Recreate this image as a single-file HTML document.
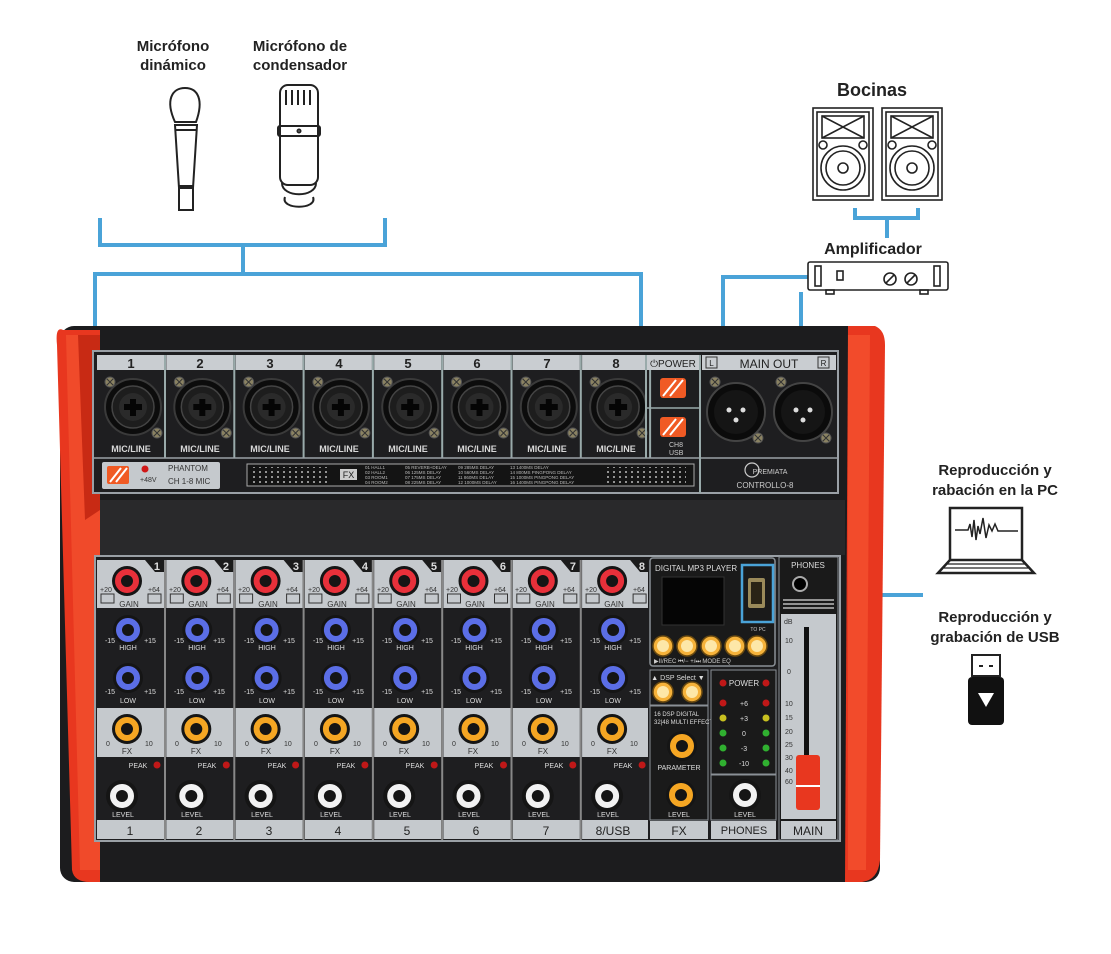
<!DOCTYPE html>
<html><head><meta charset="utf-8"><style>
html,body{margin:0;padding:0;background:#fff;}
svg{display:block;}
.t{font-family:"Liberation Sans",sans-serif;}
</style></head><body>
<svg width="1111" height="954" viewBox="0 0 1111 954" xmlns="http://www.w3.org/2000/svg" class="t">
<defs>
<pattern id="dots" width="6" height="5" patternUnits="userSpaceOnUse"><circle cx="2" cy="2" r="1" fill="#bbb"/></pattern>
<g id="jack">
 <circle cx="0" cy="0" r="28" fill="#0c0c0c" stroke="#3a3a3a" stroke-width="2"/>
 <circle cx="0" cy="0" r="21" fill="#1d1d1d" stroke="#444" stroke-width="1.5"/>
 <circle cx="0" cy="0" r="14" fill="#2a2a2a"/>
 <path d="M-9,-3 L-3,-3 L-3,-8 L3,-8 L3,-3 L9,-3 L9,3 L3,3 L3,9 L-3,9 L-3,3 L-9,3Z" fill="#050505"/>
</g>
<g id="screw"><circle r="5" fill="#8a8262" stroke="#555" stroke-width="1"/><path d="M-3,-3 L3,3 M-3,3 L3,-3" stroke="#333" stroke-width="1"/></g>
<g id="krd"><circle r="15" fill="#151515"/><circle r="9" fill="none" stroke="#e8303a" stroke-width="6"/><circle r="5" fill="#151515"/></g>
<g id="kbl"><circle r="15" fill="#151515"/><circle r="9" fill="none" stroke="#5b6ee6" stroke-width="6"/><circle r="5" fill="#151515"/></g>
<g id="kor"><circle r="15" fill="#151515"/><circle r="9" fill="none" stroke="#f5a623" stroke-width="6"/><circle r="5" fill="#151515"/></g>
<g id="kwh"><circle r="16" fill="#151515"/><circle r="9" fill="none" stroke="#f2f2f2" stroke-width="6"/><circle r="5" fill="#151515"/></g>
<g id="btn"><circle r="10" fill="#f6b23a" stroke="#6a4a10" stroke-width="1.5"/><circle r="6" fill="#fde7a8"/></g>
<g id="chtop">
 <rect x="97" y="355" width="67" height="15" fill="#c9cdd1"/>
 <line x1="165" y1="355" x2="165" y2="458" stroke="#9aa" stroke-width="2"/>
 <use href="#jack" x="133" y="407"/>
 <use href="#screw" x="110" y="382"/>
 <use href="#screw" x="157" y="433"/>
</g>
<g id="chbot">
 <rect x="97" y="560" width="67" height="48" fill="#c5c9cd"/>
 <path d="M145,560 L164,560 L164,572 L155,572Z" fill="#1b1b1b"/>
 <rect x="97" y="708" width="67" height="49" fill="#c5c9cd"/>
 <rect x="97" y="820" width="67" height="19" fill="#c5c9cd"/>
 <line x1="165" y1="560" x2="165" y2="840" stroke="#888" stroke-width="2"/>
 <rect x="101" y="594" width="13" height="9" fill="none" stroke="#333" stroke-width="1"/>
 <rect x="148" y="594" width="13" height="9" fill="none" stroke="#333" stroke-width="1"/>
 <use href="#krd" x="127" y="581"/>
 <use href="#kbl" x="128" y="630"/>
 <use href="#kbl" x="128" y="678"/>
 <use href="#kor" x="127" y="729"/>
 <use href="#kwh" x="122" y="796"/>
 <circle cx="157" cy="765" r="3.5" fill="#c01818"/>
</g>
</defs>

<!-- Blue connectors -->
<g stroke="#4aa3d8" stroke-width="4" fill="none">
 <path d="M100,218 V245 H385 V218"/>
 <path d="M243,245 V274"/>
 <path d="M95,340 V274 H641 V340"/>
 <path d="M855,208 V218 H918 V208"/>
 <path d="M887,218 V238"/>
 <path d="M808,277 H723 V372"/>
 <path d="M801,292 V372"/>
 <path d="M776,595 H923"/>
</g>

<!-- Labels top -->
<g font-weight="bold" font-size="15" fill="#222" text-anchor="middle">
 <text x="173" y="51">Micrófono</text>
 <text x="173" y="70">dinámico</text>
 <text x="300" y="51">Micrófono de</text>
 <text x="300" y="70">condensador</text>
 <text x="872" y="96" font-size="18">Bocinas</text>
 <text x="873" y="254" font-size="16">Amplificador</text>
 <text x="995" y="475">Reproducción y</text>
 <text x="995" y="495">rabación en la PC</text>
 <text x="995" y="622">Reproducción y</text>
 <text x="995" y="642">grabación de USB</text>
</g>

<!-- dynamic mic -->
<g fill="none" stroke="#222" stroke-width="2">
 <path d="M175,122 C165,100 172,88 185,88 C198,88 204,100 196,122 Z"/>
 <path d="M175,125 H197 L193,188 H179 Z"/>
 <rect x="179" y="186" width="14" height="24"/>
 <path d="M176,130 H196"/>
 <!-- condenser -->
 <rect x="280" y="85" width="38" height="100" rx="8"/>
 <path d="M286,90 V105 M292,90 V105 M298,90 V105 M304,90 V105 M310,90 V105"/>
 <rect x="278" y="126" width="42" height="10" rx="2"/>
 <circle cx="299" cy="131" r="1.5"/>
 <path d="M282,183 C282,198 316,198 316,183"/>
 <path d="M285,197 C280,210 318,210 313,197"/>
</g>

<!-- speakers -->
<g fill="none" stroke="#222" stroke-width="1.6">
 <rect x="813" y="108" width="60" height="92"/>
 <rect x="817" y="112" width="52" height="84"/>
 <rect x="822" y="116" width="42" height="22"/>
 <path d="M822,116 L843,127 L864,116 M822,138 L843,127 L864,138"/>
 <circle cx="843" cy="168" r="22"/><circle cx="843" cy="168" r="17"/><circle cx="843" cy="168" r="5"/>
 <circle cx="823" cy="145" r="4"/><circle cx="863" cy="145" r="4"/>
 <rect x="882" y="108" width="60" height="92"/>
 <rect x="886" y="112" width="52" height="84"/>
 <rect x="891" y="116" width="42" height="22"/>
 <path d="M891,116 L912,127 L933,116 M891,138 L912,127 L933,138"/>
 <circle cx="912" cy="168" r="22"/><circle cx="912" cy="168" r="17"/><circle cx="912" cy="168" r="5"/>
 <circle cx="892" cy="145" r="4"/><circle cx="932" cy="145" r="4"/>
 <!-- amp -->
 <rect x="808" y="262" width="140" height="28" rx="2"/>
 <rect x="815" y="266" width="6" height="20"/><rect x="934" y="266" width="6" height="20"/>
 <rect x="837" y="271" width="6" height="9"/>
 <circle cx="890" cy="279" r="6"/><circle cx="911" cy="279" r="6"/>
 <path d="M886,283 L894,275 M907,283 L915,275"/>
 <rect x="826" y="290" width="8" height="4"/><rect x="920" y="290" width="8" height="4"/>
 <!-- laptop -->
 <rect x="950" y="508" width="72" height="52" stroke-width="2.5"/>
 <path d="M950,560 L938,573 H1034 L1022,560" stroke-width="2.5"/>
 <path d="M946,564 H1026 M944,568 H1028" stroke-width="1.2"/>
 <path d="M955,530 H968 L970,524 L972,537 L974,520 L976,540 L978,526 L980,534 L983,518 L986,538 L989,525 L992,531 L995,524 L998,531 H1018" stroke-width="1.5"/>
 <rect x="972" y="655" width="28" height="21" stroke-width="2"/>
 <path d="M979,666 H983 M989,666 H993" stroke-width="2"/>
</g>
<rect x="968" y="677" width="36" height="48" rx="4" fill="#111"/>
<path d="M978,693 H994 L986,707Z" fill="#fff"/>

<!-- Mixer body -->
<rect x="60" y="326" width="820" height="556" rx="14" fill="#1c1c1e"/>
<rect x="95" y="500" width="750" height="55" fill="#29292b"/>
<path d="M63,330 Q55,326 57,345 L72,870 Q74,882 90,882 L100,882 L100,330Z" fill="#e8371f"/>
<path d="M66,335 L100,335 L100,870 L80,870Z" fill="#f04a2a"/>
<path d="M78,335 L100,335 L100,510 L85,520Z" fill="#c82a14"/>
<path d="M848,326 L875,326 Q885,330 885,345 L880,860 Q878,880 862,882 L845,882Z" fill="#e8371f"/>
<path d="M848,335 L870,335 L866,870 L848,870Z" fill="#f24b2b"/>

<!-- top panel -->
<rect x="93" y="351" width="745" height="142" fill="#1e1e20" stroke="#9aa0a6" stroke-width="2"/>
<use href="#chtop"/>
<use href="#chtop" x="69.3"/>
<use href="#chtop" x="138.6"/>
<use href="#chtop" x="207.9"/>
<use href="#chtop" x="277.2"/>
<use href="#chtop" x="346.5"/>
<use href="#chtop" x="415.8"/>
<use href="#chtop" x="485.1"/>
<line x1="93" y1="458" x2="838" y2="458" stroke="#9aa0a6" stroke-width="1.5"/>
<g font-size="13" font-weight="bold" fill="#222" text-anchor="middle">
 <text x="131" y="368">1</text><text x="200" y="368">2</text><text x="270" y="368">3</text><text x="339" y="368">4</text>
 <text x="408" y="368">5</text><text x="477" y="368">6</text><text x="547" y="368">7</text><text x="616" y="368">8</text>
</g>
<g font-size="9" font-weight="bold" fill="#d8d8d8" text-anchor="middle">
 <text x="131" y="452">MIC/LINE</text><text x="200" y="452">MIC/LINE</text><text x="270" y="452">MIC/LINE</text><text x="339" y="452">MIC/LINE</text>
 <text x="408" y="452">MIC/LINE</text><text x="477" y="452">MIC/LINE</text><text x="547" y="452">MIC/LINE</text><text x="616" y="452">MIC/LINE</text>
</g>
<!-- phantom -->
<rect x="102" y="462" width="118" height="27" rx="2" fill="#c5c9cd"/>
<rect x="107" y="466" width="22" height="18" rx="2" fill="#f05a24"/>
<path d="M110,482 L121,468 M116,482 L127,468" stroke="#fff" stroke-width="2"/>
<circle cx="145" cy="469" r="3.5" fill="#d01818"/>
<text x="140" y="482" font-size="7" fill="#333">+48V</text>
<text x="168" y="471" font-size="8" fill="#333">PHANTOM</text>
<text x="168" y="484" font-size="8" fill="#333">CH 1-8 MIC</text>
<!-- fx list -->
<rect x="247" y="464" width="447" height="22" fill="#141414" stroke="#aaa" stroke-width="1"/>
<rect x="251" y="467" width="80" height="16" fill="url(#dots)"/>
<rect x="606" y="467" width="80" height="16" fill="url(#dots)"/>
<rect x="340" y="469" width="17" height="11" fill="#ccc"/>
<text x="348.5" y="478" font-size="9" fill="#222" text-anchor="middle">FX</text>
<g font-size="4.5" fill="#bbb">
 <text x="365" y="469">01 HALL1</text><text x="365" y="474">02 HALL2</text><text x="365" y="479">03 ROOM1</text><text x="365" y="484">04 ROOM2</text>
 <text x="405" y="469">05 REVERB+DELAY</text><text x="405" y="474">06 125MS DELAY</text><text x="405" y="479">07 175MS DELAY</text><text x="405" y="484">08 225MS DELAY</text>
 <text x="458" y="469">09 285MS DELAY</text><text x="458" y="474">10 560MS DELAY</text><text x="458" y="479">11 860MS DELAY</text><text x="458" y="484">12 1000MS DELAY</text>
 <text x="510" y="469">13 1400MS DELAY</text><text x="510" y="474">14 800MS PINGPONG DELAY</text><text x="510" y="479">15 1000MS PINGPONG DELAY</text><text x="510" y="484">16 1400MS PINGPONG DELAY</text>
</g>
<!-- power/usb -->
<rect x="647" y="355" width="52" height="15" fill="#c9cdd1"/>
<text x="673" y="367" font-size="10" fill="#222" text-anchor="middle">⏻POWER</text>
<line x1="646" y1="355" x2="646" y2="458" stroke="#9aa" stroke-width="2"/>
<line x1="700" y1="355" x2="700" y2="493" stroke="#9aa" stroke-width="2"/>
<line x1="646" y1="408" x2="700" y2="408" stroke="#9aa" stroke-width="1.5"/>
<rect x="660" y="378" width="26" height="20" rx="3" fill="#f05a24"/>
<path d="M663,396 L676,380 M670,396 L683,380" stroke="#fff" stroke-width="2"/>
<rect x="660" y="417" width="26" height="20" rx="3" fill="#f05a24"/>
<path d="M663,435 L676,419 M670,435 L683,419" stroke="#fff" stroke-width="2"/>
<text x="669" y="447" font-size="7" fill="#ccc">CH8</text>
<text x="669" y="455" font-size="7" fill="#ccc">USB</text>
<!-- main out -->
<rect x="702" y="355" width="134" height="15" fill="#c9cdd1"/>
<text x="769" y="368" font-size="12" fill="#222" text-anchor="middle">MAIN OUT</text>
<rect x="706" y="357" width="11" height="11" fill="none" stroke="#333"/>
<text x="711.5" y="366" font-size="8" text-anchor="middle" fill="#222">L</text>
<rect x="818" y="357" width="11" height="11" fill="none" stroke="#333"/>
<text x="823.5" y="366" font-size="8" text-anchor="middle" fill="#222">R</text>
<g>
 <circle cx="736" cy="412" r="29" fill="#0b0b0b" stroke="#444" stroke-width="2"/>
 <circle cx="736" cy="412" r="22" fill="#151515"/>
 <circle cx="729" cy="410" r="2.5" fill="#ddd"/><circle cx="743" cy="410" r="2.5" fill="#ddd"/><circle cx="736" cy="420" r="2.5" fill="#ddd"/>
 <circle cx="803" cy="412" r="29" fill="#0b0b0b" stroke="#444" stroke-width="2"/>
 <circle cx="803" cy="412" r="22" fill="#151515"/>
 <circle cx="796" cy="410" r="2.5" fill="#ddd"/><circle cx="810" cy="410" r="2.5" fill="#ddd"/><circle cx="803" cy="420" r="2.5" fill="#ddd"/>
 <use href="#screw" x="715" y="382"/><use href="#screw" x="758" y="438"/>
 <use href="#screw" x="781" y="382"/><use href="#screw" x="826" y="438"/>
</g>
<circle cx="752" cy="470" r="7" fill="none" stroke="#ccc" stroke-width="1.2"/>
<text x="770" y="474" font-size="7" fill="#ccc" text-anchor="middle">PREMIATA</text>
<text x="765" y="488" font-size="8" fill="#ccc" text-anchor="middle">CONTROLLO-8</text>

<!-- bottom panel -->
<rect x="95" y="556" width="745" height="285" fill="#1e1e20" stroke="#9aa0a6" stroke-width="2"/>
<use href="#chbot"/>
<use href="#chbot" x="69.3"/>
<use href="#chbot" x="138.6"/>
<use href="#chbot" x="207.9"/>
<use href="#chbot" x="277.2"/>
<use href="#chbot" x="346.5"/>
<use href="#chbot" x="415.8"/>
<use href="#chbot" x="485.1"/>
<g font-size="11" font-weight="bold" fill="#ddd" text-anchor="end">
 <text x="160" y="570">1</text><text x="229" y="570">2</text><text x="299" y="570">3</text><text x="368" y="570">4</text>
 <text x="437" y="570">5</text><text x="506" y="570">6</text><text x="576" y="570">7</text><text x="645" y="570">8</text>
</g>
<g font-size="8" fill="#333" text-anchor="middle">
 <text x="129" y="607">GAIN</text><text x="198" y="607">GAIN</text><text x="268" y="607">GAIN</text><text x="337" y="607">GAIN</text>
 <text x="406" y="607">GAIN</text><text x="475" y="607">GAIN</text><text x="545" y="607">GAIN</text><text x="614" y="607">GAIN</text>
 <text x="127" y="754">FX</text><text x="196" y="754">FX</text><text x="266" y="754">FX</text><text x="335" y="754">FX</text>
 <text x="404" y="754">FX</text><text x="473" y="754">FX</text><text x="543" y="754">FX</text><text x="612" y="754">FX</text>
</g>
<g font-size="7" fill="#333">
 <text x="100" y="592">+20</text><text x="148" y="592">+64</text>
 <text x="169" y="592">+20</text><text x="217" y="592">+64</text>
 <text x="238" y="592">+20</text><text x="286" y="592">+64</text>
 <text x="308" y="592">+20</text><text x="356" y="592">+64</text>
 <text x="377" y="592">+20</text><text x="425" y="592">+64</text>
 <text x="446" y="592">+20</text><text x="494" y="592">+64</text>
 <text x="515" y="592">+20</text><text x="563" y="592">+64</text>
 <text x="585" y="592">+20</text><text x="633" y="592">+64</text>
 <text x="106" y="746">0</text><text x="145" y="746">10</text>
 <text x="175" y="746">0</text><text x="214" y="746">10</text>
 <text x="245" y="746">0</text><text x="284" y="746">10</text>
 <text x="314" y="746">0</text><text x="353" y="746">10</text>
 <text x="383" y="746">0</text><text x="422" y="746">10</text>
 <text x="452" y="746">0</text><text x="491" y="746">10</text>
 <text x="522" y="746">0</text><text x="561" y="746">10</text>
 <text x="591" y="746">0</text><text x="630" y="746">10</text>
</g>
<g font-size="7" fill="#ddd" text-anchor="middle">
 <text x="128" y="650">HIGH</text><text x="197" y="650">HIGH</text><text x="267" y="650">HIGH</text><text x="336" y="650">HIGH</text>
 <text x="405" y="650">HIGH</text><text x="474" y="650">HIGH</text><text x="544" y="650">HIGH</text><text x="613" y="650">HIGH</text>
 <text x="128" y="703">LOW</text><text x="197" y="703">LOW</text><text x="267" y="703">LOW</text><text x="336" y="703">LOW</text>
 <text x="405" y="703">LOW</text><text x="474" y="703">LOW</text><text x="544" y="703">LOW</text><text x="613" y="703">LOW</text>
 <text x="123" y="817">LEVEL</text><text x="192" y="817">LEVEL</text><text x="262" y="817">LEVEL</text><text x="331" y="817">LEVEL</text>
 <text x="400" y="817">LEVEL</text><text x="469" y="817">LEVEL</text><text x="539" y="817">LEVEL</text><text x="608" y="817">LEVEL</text>
 <text x="138" y="768">PEAK</text><text x="207" y="768">PEAK</text><text x="277" y="768">PEAK</text><text x="346" y="768">PEAK</text>
 <text x="415" y="768">PEAK</text><text x="484" y="768">PEAK</text><text x="554" y="768">PEAK</text><text x="623" y="768">PEAK</text>
 <text x="110" y="643">-15</text><text x="179" y="643">-15</text><text x="249" y="643">-15</text><text x="318" y="643">-15</text>
 <text x="387" y="643">-15</text><text x="456" y="643">-15</text><text x="526" y="643">-15</text><text x="595" y="643">-15</text>
 <text x="150" y="643">+15</text><text x="219" y="643">+15</text><text x="289" y="643">+15</text><text x="358" y="643">+15</text>
 <text x="427" y="643">+15</text><text x="496" y="643">+15</text><text x="566" y="643">+15</text><text x="635" y="643">+15</text>
 <text x="110" y="694">-15</text><text x="179" y="694">-15</text><text x="249" y="694">-15</text><text x="318" y="694">-15</text>
 <text x="387" y="694">-15</text><text x="456" y="694">-15</text><text x="526" y="694">-15</text><text x="595" y="694">-15</text>
 <text x="150" y="694">+15</text><text x="219" y="694">+15</text><text x="289" y="694">+15</text><text x="358" y="694">+15</text>
 <text x="427" y="694">+15</text><text x="496" y="694">+15</text><text x="566" y="694">+15</text><text x="635" y="694">+15</text>
</g>
<g font-size="12" fill="#222" text-anchor="middle">
 <text x="130" y="835">1</text><text x="199" y="835">2</text><text x="269" y="835">3</text><text x="338" y="835">4</text>
 <text x="407" y="835">5</text><text x="476" y="835">6</text><text x="546" y="835">7</text><text x="613" y="835">8/USB</text>
</g>

<!-- right section -->
<rect x="648" y="557" width="128" height="283" fill="#1e1e20"/>
<rect x="650" y="558" width="125" height="108" rx="3" fill="#1a1a1a" stroke="#8a9096" stroke-width="1.5"/>
<text x="655" y="571" font-size="8" fill="#ddd">DIGITAL MP3 PLAYER</text>
<rect x="662" y="577" width="62" height="48" fill="#050505" stroke="#333"/>
<rect x="742" y="565" width="31" height="57" fill="none" stroke="#4aa3d8" stroke-width="2.5"/>
<rect x="748" y="578" width="17" height="30" rx="2" fill="#9a8a5a"/>
<rect x="751" y="582" width="11" height="22" fill="#2a2416"/>
<text x="758" y="631" font-size="5" fill="#ccc" text-anchor="middle">TO PC</text>
<use href="#btn" x="663" y="646"/><use href="#btn" x="687" y="646"/><use href="#btn" x="711" y="646"/><use href="#btn" x="735" y="646"/><use href="#btn" x="757" y="646"/>
<text x="654" y="663" font-size="6" fill="#ccc">▶II/REC  ⏮/−  +/⏭  MODE  EQ</text>
<rect x="650" y="670" width="58" height="35" fill="#1a1a1a" stroke="#8a9096"/>
<text x="678" y="680" font-size="7" fill="#ddd" text-anchor="middle">▲ DSP Select ▼</text>
<use href="#btn" x="663" y="692"/><use href="#btn" x="692" y="692"/>
<rect x="650" y="706" width="58" height="114" fill="#1a1a1a" stroke="#8a9096"/>
<text x="654" y="716" font-size="6" fill="#ddd">16 DSP DIGITAL</text>
<text x="654" y="724" font-size="6" fill="#ddd">32|48 MULTI EFFECTS</text>
<use href="#kor" x="682" y="746"/>
<text x="679" y="770" font-size="7" fill="#ddd" text-anchor="middle">PARAMETER</text>
<use href="#kor" x="681" y="795"/>
<text x="679" y="817" font-size="7" fill="#ddd" text-anchor="middle">LEVEL</text>
<rect x="650" y="821" width="58" height="18" fill="#c5c9cd"/>
<text x="679" y="835" font-size="12" fill="#222" text-anchor="middle">FX</text>
<rect x="711" y="670" width="65" height="104" fill="#1a1a1a" stroke="#8a9096"/>
<text x="744" y="686" font-size="8" fill="#ddd" text-anchor="middle">POWER</text>
<circle cx="723" cy="683" r="3.5" fill="#c01818"/><circle cx="766" cy="683" r="3.5" fill="#c01818"/>
<g font-size="7" fill="#ddd" text-anchor="middle">
 <circle cx="723" cy="703" r="3.5" fill="#c01818"/><circle cx="766" cy="703" r="3.5" fill="#c01818"/><text x="744" y="706">+6</text>
 <circle cx="723" cy="718" r="3.5" fill="#c8c020"/><circle cx="766" cy="718" r="3.5" fill="#c8c020"/><text x="744" y="721">+3</text>
 <circle cx="723" cy="733" r="3.5" fill="#30b030"/><circle cx="766" cy="733" r="3.5" fill="#30b030"/><text x="744" y="736">0</text>
 <circle cx="723" cy="748" r="3.5" fill="#30b030"/><circle cx="766" cy="748" r="3.5" fill="#30b030"/><text x="744" y="751">-3</text>
 <circle cx="723" cy="763" r="3.5" fill="#30b030"/><circle cx="766" cy="763" r="3.5" fill="#30b030"/><text x="744" y="766">-10</text>
</g>
<rect x="711" y="775" width="65" height="45" fill="#1a1a1a" stroke="#8a9096"/>
<use href="#kwh" x="745" y="795"/>
<text x="745" y="817" font-size="7" fill="#ddd" text-anchor="middle">LEVEL</text>
<rect x="711" y="821" width="65" height="18" fill="#c5c9cd"/>
<text x="744" y="834" font-size="11" fill="#222" text-anchor="middle">PHONES</text>
<rect x="779" y="557" width="59" height="283" fill="#1a1a1a" stroke="#8a9096"/>
<text x="808" y="568" font-size="8" fill="#ddd" text-anchor="middle">PHONES</text>
<circle cx="800" cy="584" r="7" fill="#000" stroke="#aaa" stroke-width="2"/>
<path d="M783,600 H834 M783,604 H834 M783,608 H834" stroke="#bbb" stroke-width="1.5"/>
<rect x="781" y="614" width="55" height="205" fill="#c5c9cd"/>
<rect x="804" y="627" width="5" height="150" fill="#111"/>
<g font-size="7" fill="#333"><text x="784" y="624">dB</text><text x="785" y="643">10</text><text x="787" y="674">0</text><text x="785" y="706">10</text><text x="785" y="720">15</text><text x="785" y="734">20</text><text x="785" y="747">25</text><text x="785" y="760">30</text><text x="785" y="773">40</text><text x="785" y="784">60</text></g>
<rect x="796" y="755" width="24" height="55" rx="3" fill="#e8371f"/>
<path d="M796,786 H820" stroke="#fff" stroke-width="2"/>
<rect x="781" y="821" width="55" height="18" fill="#c5c9cd"/>
<text x="808" y="835" font-size="12" fill="#222" text-anchor="middle">MAIN</text>
</svg>
</body></html>
